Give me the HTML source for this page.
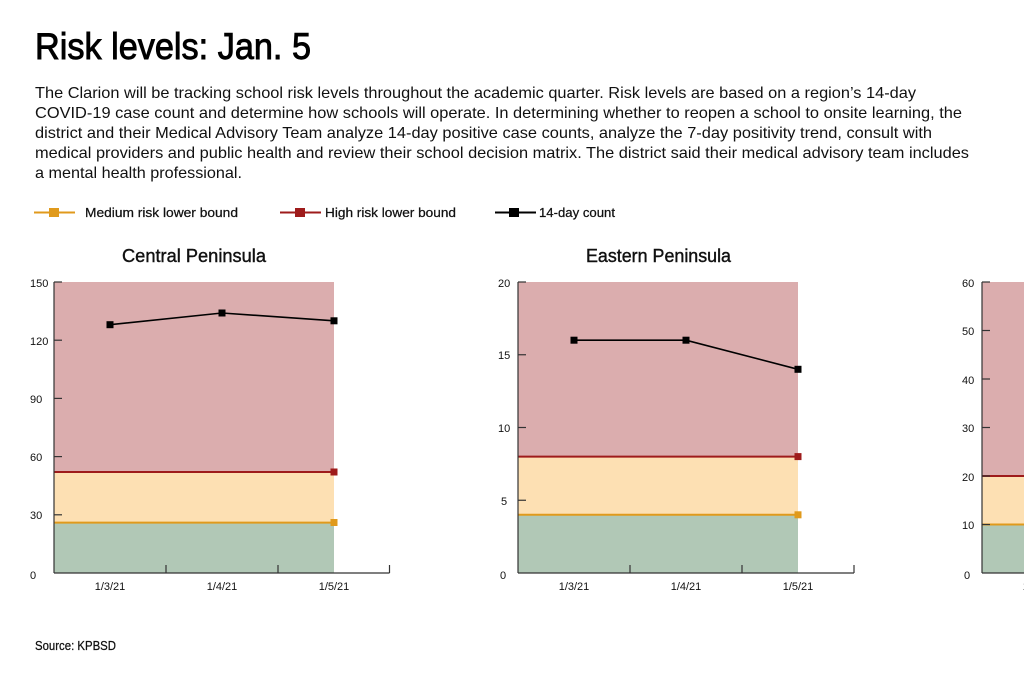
<!DOCTYPE html>
<html><head><meta charset="utf-8"><style>
html,body{margin:0;padding:0;background:#fff;}
svg{display:block;}
text{font-family:"Liberation Sans",sans-serif;fill:#111;}
</style></head><body>
<svg width="1024" height="682" viewBox="0 0 1024 682" xmlns="http://www.w3.org/2000/svg">
<rect width="1024" height="682" fill="#fff"/>
<text x="35" y="59" font-size="37" textLength="276" lengthAdjust="spacingAndGlyphs" stroke="#000" stroke-width="0.9" style="fill:#000">Risk levels: Jan. 5</text>
<g font-size="16" style="fill:#000">
<text x="35" y="98" textLength="881" lengthAdjust="spacingAndGlyphs">The Clarion will be tracking school risk levels throughout the academic quarter. Risk levels are based on a region’s 14-day</text>
<text x="35" y="118" textLength="927" lengthAdjust="spacingAndGlyphs">COVID-19 case count and determine how schools will operate. In determining whether to reopen a school to onsite learning, the</text>
<text x="35" y="138" textLength="897" lengthAdjust="spacingAndGlyphs">district and their Medical Advisory Team analyze 14-day positive case counts, analyze the 7-day positivity trend, consult with</text>
<text x="35" y="158" textLength="934" lengthAdjust="spacingAndGlyphs">medical providers and public health and review their school decision matrix. The district said their medical advisory team includes</text>
<text x="35" y="178" textLength="207" lengthAdjust="spacingAndGlyphs">a mental health professional.</text>
</g>
<!-- legend -->
<line x1="34" y1="212.5" x2="75" y2="212.5" stroke="#e09a1c" stroke-width="2"/>
<rect x="49" y="208" width="10" height="9" fill="#e09a1c"/>
<text x="85" y="217" font-size="13" textLength="153" lengthAdjust="spacingAndGlyphs" stroke="#111" stroke-width="0.25">Medium risk lower bound</text>
<line x1="280" y1="212.5" x2="321" y2="212.5" stroke="#9e1b1b" stroke-width="2"/>
<rect x="295" y="208" width="10" height="9" fill="#9e1b1b"/>
<text x="325" y="217" font-size="13" textLength="131" lengthAdjust="spacingAndGlyphs" stroke="#111" stroke-width="0.25">High risk lower bound</text>
<line x1="495" y1="212.5" x2="536" y2="212.5" stroke="#000" stroke-width="2"/>
<rect x="509" y="208" width="10" height="9" fill="#000"/>
<text x="539" y="217" font-size="13" textLength="76" lengthAdjust="spacingAndGlyphs" stroke="#111" stroke-width="0.25">14-day count</text>

<!-- Central Peninsula -->
<text x="122" y="262" font-size="18" textLength="144" lengthAdjust="spacingAndGlyphs" stroke="#111" stroke-width="0.4">Central Peninsula</text>
<rect x="54" y="282" width="280" height="190" fill="#dbadae"/>
<rect x="54" y="472" width="280" height="50.6" fill="#fde0b3"/>
<rect x="54" y="522.6" width="280" height="50.4" fill="#b1c8b6"/>
<line x1="54" y1="472" x2="334" y2="472" stroke="#9e1b1b" stroke-width="2"/>
<rect x="330.5" y="468.5" width="7" height="7" fill="#9e1b1b"/>
<line x1="54" y1="522.6" x2="334" y2="522.6" stroke="#e09a1c" stroke-width="2"/>
<rect x="330.5" y="519" width="7" height="7" fill="#e09a1c"/>
<polyline points="110,324.7 222,313 334,320.8" fill="none" stroke="#000" stroke-width="1.6"/>
<rect x="106.5" y="321.2" width="7" height="7" fill="#000"/>
<rect x="218.5" y="309.5" width="7" height="7" fill="#000"/>
<rect x="330.5" y="317.3" width="7" height="7" fill="#000"/>
<g stroke="#333" stroke-width="1.2">
<line x1="54" y1="282" x2="54" y2="573"/>
<line x1="54" y1="573" x2="389.5" y2="573"/>
<line x1="54" y1="282" x2="62" y2="282"/>
<line x1="54" y1="340.2" x2="62" y2="340.2"/>
<line x1="54" y1="398.4" x2="62" y2="398.4"/>
<line x1="54" y1="456.6" x2="62" y2="456.6"/>
<line x1="54" y1="514.8" x2="62" y2="514.8"/>
<line x1="166" y1="573" x2="166" y2="565"/>
<line x1="278" y1="573" x2="278" y2="565"/>
<line x1="389.5" y1="573" x2="389.5" y2="565"/>
</g>
<g font-size="11">
<text x="30" y="287">150</text>
<text x="30" y="345">120</text>
<text x="30" y="403">90</text>
<text x="30" y="461">60</text>
<text x="30" y="519">30</text>
<text x="30" y="579">0</text>
</g>
<g font-size="11" text-anchor="middle">
<text x="110" y="590">1/3/21</text>
<text x="222" y="590">1/4/21</text>
<text x="334" y="590">1/5/21</text>
</g>

<!-- Eastern Peninsula -->
<text x="586" y="262" font-size="18" textLength="145" lengthAdjust="spacingAndGlyphs" stroke="#111" stroke-width="0.4">Eastern Peninsula</text>
<rect x="518" y="282" width="280" height="174.6" fill="#dbadae"/>
<rect x="518" y="456.6" width="280" height="58.2" fill="#fde0b3"/>
<rect x="518" y="514.8" width="280" height="58.2" fill="#b1c8b6"/>
<line x1="518" y1="456.6" x2="798" y2="456.6" stroke="#9e1b1b" stroke-width="2"/>
<rect x="794.5" y="453.1" width="7" height="7" fill="#9e1b1b"/>
<line x1="518" y1="514.8" x2="798" y2="514.8" stroke="#e09a1c" stroke-width="2"/>
<rect x="794.5" y="511.3" width="7" height="7" fill="#e09a1c"/>
<polyline points="574,340.2 686,340.2 798,369.3" fill="none" stroke="#000" stroke-width="1.6"/>
<rect x="570.5" y="336.7" width="7" height="7" fill="#000"/>
<rect x="682.5" y="336.7" width="7" height="7" fill="#000"/>
<rect x="794.5" y="365.8" width="7" height="7" fill="#000"/>
<g stroke="#333" stroke-width="1.2">
<line x1="518" y1="282" x2="518" y2="573"/>
<line x1="518" y1="573" x2="854" y2="573"/>
<line x1="518" y1="282" x2="526" y2="282"/>
<line x1="518" y1="354.75" x2="526" y2="354.75"/>
<line x1="518" y1="427.5" x2="526" y2="427.5"/>
<line x1="518" y1="500.25" x2="526" y2="500.25"/>
<line x1="630" y1="573" x2="630" y2="565"/>
<line x1="742" y1="573" x2="742" y2="565"/>
<line x1="854" y1="573" x2="854" y2="565"/>
</g>
<g font-size="11">
<text x="498" y="287">20</text>
<text x="498" y="359">15</text>
<text x="498" y="432">10</text>
<text x="501" y="505">5</text>
<text x="500" y="579">0</text>
</g>
<g font-size="11" text-anchor="middle">
<text x="574" y="590">1/3/21</text>
<text x="686" y="590">1/4/21</text>
<text x="798" y="590">1/5/21</text>
</g>

<!-- Third chart (cut off) -->
<rect x="982" y="282" width="42" height="194" fill="#dbadae"/>
<rect x="982" y="476" width="42" height="48.5" fill="#fde0b3"/>
<rect x="982" y="524.5" width="42" height="48.5" fill="#b1c8b6"/>
<line x1="982" y1="476" x2="1024" y2="476" stroke="#9e1b1b" stroke-width="2"/>
<line x1="982" y1="524.5" x2="1024" y2="524.5" stroke="#e09a1c" stroke-width="2"/>
<g stroke="#333" stroke-width="1.2">
<line x1="982" y1="282" x2="982" y2="573"/>
<line x1="982" y1="573" x2="1024" y2="573"/>
<line x1="982" y1="282" x2="990" y2="282"/>
<line x1="982" y1="330.5" x2="990" y2="330.5"/>
<line x1="982" y1="379" x2="990" y2="379"/>
<line x1="982" y1="427.5" x2="990" y2="427.5"/>
<line x1="982" y1="476" x2="990" y2="476"/>
<line x1="982" y1="524.5" x2="990" y2="524.5"/>
</g>
<g font-size="11">
<text x="962" y="287">60</text>
<text x="962" y="335">50</text>
<text x="962" y="384">40</text>
<text x="962" y="432">30</text>
<text x="962" y="481">20</text>
<text x="962" y="529">10</text>
<text x="964" y="579">0</text>
</g>
<text x="1038" y="590" font-size="11" text-anchor="middle">1/3/21</text>

<text x="35" y="650" font-size="12.5" textLength="81" lengthAdjust="spacingAndGlyphs" stroke="#111" stroke-width="0.25">Source: KPBSD</text>
</svg>
</body></html>
